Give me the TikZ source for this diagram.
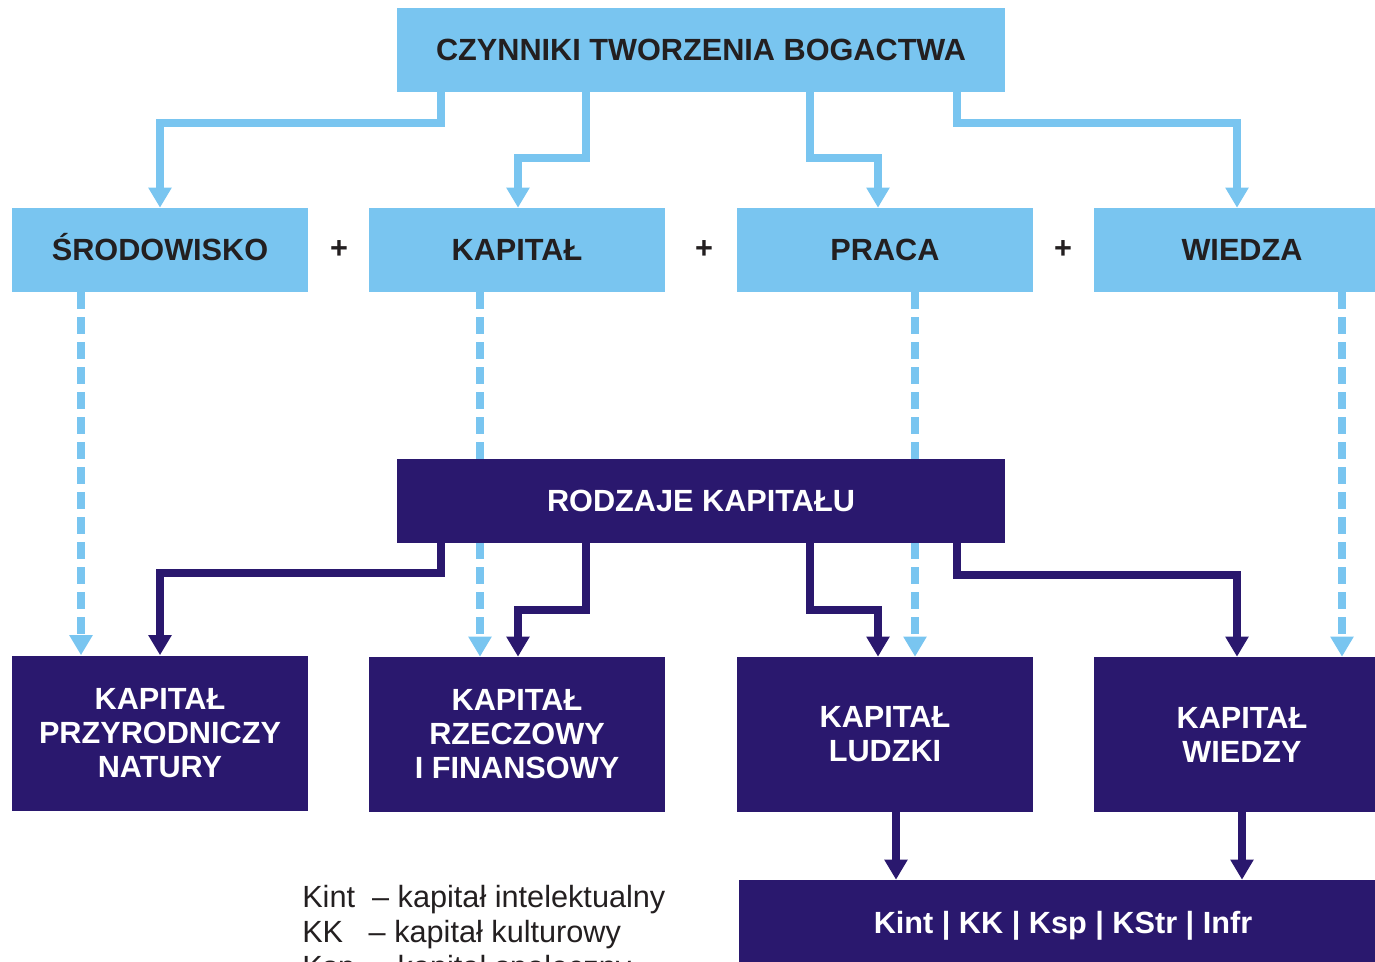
\documentclass[tikz,border=0pt]{standalone}
\usepackage{fontspec}
\setmainfont{Liberation Sans}
\usetikzlibrary{arrows.meta,calc}
\definecolor{lblue}{HTML}{79C5F0}
\definecolor{navy}{HTML}{2A186E}
\definecolor{dtext}{HTML}{231F20}
\tikzset{
  lbox/.style={fill=lblue, text=dtext, font=\bfseries\fontsize{23}{27}\selectfont,
    minimum width=222pt, minimum height=63pt, inner sep=0pt, align=center,
    text height=16.5pt, text depth=0pt},
  nbox/.style={fill=navy, text=white, font=\bfseries\fontsize{23}{25.5}\selectfont,
    minimum width=222pt, minimum height=116.25pt, inner sep=0pt, align=center},
  nbar/.style={fill=navy, text=white, font=\bfseries\fontsize{23}{27}\selectfont,
    minimum width=456pt, minimum height=63pt, inner sep=0pt, align=center,
    text height=16.5pt, text depth=0pt},
  tip/.style={-{Triangle[width=16.5pt,length=15pt]}},
  lconn/.style={draw=lblue, line width=6pt, tip},
  nconn/.style={draw=navy, line width=6pt, tip},
  dconn/.style={lconn, dash pattern=on 12.75pt off 6pt},
  plus/.style={text=dtext, font=\bfseries\fontsize{23}{27}\selectfont, inner sep=0pt},
  legend/.style={text=dtext, font=\fontsize{23}{27}\selectfont, inner sep=0pt, anchor=base west},
}
\begin{document}
\begin{tikzpicture}[x=0.75pt,y=-0.75pt]
\useasboundingbox (0,0) rectangle (1375,962);
\clip (0,0) rectangle (1375,962);
% top
\node[lbox, minimum width=456pt] (top) at (701,50) {CZYNNIKI TWORZENIA BOGACTWA};
% row 2
\node[lbox] (srod) at (160,250) {ŚRODOWISKO};
\node[lbox] (kap) at (517,250) {KAPITAŁ};
\node[lbox] (praca) at (885,250) {PRACA};
\node[lbox] (wiedza) at (1242,250) {WIEDZA};
\node[plus] (p1) at (339,250) {+};
\node[plus] (p2) at (704,250) {+};
\node[plus] (p3) at (1063,250) {+};
% bottom row
\node[nbox] (kpn) at (160,733) {KAPITAŁ\\PRZYRODNICZY\\NATURY};
\node[nbox] (krf) at (517,734.5) {KAPITAŁ\\RZECZOWY\\I FINANSOWY};
\node[nbox] (kl) at (885,734.5) {KAPITAŁ\\LUDZKI};
\node[nbox] (kw) at (1242,734.5) {KAPITAŁ\\WIEDZY};
\node[nbar, minimum width=486pt] (kib) at (1063,922) {Kint | KK | Ksp | KStr | Infr};
% legend
\node[legend] (l1) at (302,907) {Kint\ \ – kapitał intelektualny};
\node[legend] (l2) at (302,942) {KK\ \ \ – kapitał kulturowy};
\node[legend] (l3) at (302,977) {Ksp\ \ – kapitał społeczny};
% top connectors
\draw[lconn] ($(top.south)+(-260,0)$) |- ($(srod.north)+(0,-85)$) -- (srod.north);
\draw[lconn] ($(top.south)+(-115,0)$) |- ($(kap.north)+(1,-50)$) -- ($(kap.north)+(1,0)$);
\draw[lconn] ($(top.south)+(109,0)$) |- ($(praca.north)+(-7,-50)$) -- ($(praca.north)+(-7,0)$);
\draw[lconn] ($(top.south)+(256,0)$) |- ($(wiedza.north)+(-5,-85)$) -- ($(wiedza.north)+(-5,0)$);
% dashed connectors
\draw[dconn] ($(srod.south)+(-79,0)$) -- ($(kpn.north)+(-79,0)$);
\draw[dconn] ($(kap.south)+(-37,0)$) -- ($(krf.north)+(-37,0)$);
\draw[dconn] ($(praca.south)+(30,0)$) -- ($(kl.north)+(30,0)$);
\draw[dconn] ($(wiedza.south)+(100,0)$) -- ($(kw.north)+(100,0)$);
% middle box
\node[nbar] (rodz) at (701,501) {RODZAJE KAPITAŁU};
% navy connectors
\draw[nconn] ($(rodz.south)+(-260,0)$) |- ($(kpn.north)+(0,-82)$) -- (kpn.north);
\draw[nconn] ($(rodz.south)+(-115,0)$) |- ($(krf.north)+(1,-47)$) -- ($(krf.north)+(1,0)$);
\draw[nconn] ($(rodz.south)+(109,0)$) |- ($(kl.north)+(-7,-47)$) -- ($(kl.north)+(-7,0)$);
\draw[nconn] ($(rodz.south)+(256,0)$) |- ($(kw.north)+(-5,-82)$) -- ($(kw.north)+(-5,0)$);
% to bottom box
\draw[nconn] ($(kl.south)+(11,0)$) coordinate (a1) -- (a1 |- kib.north);
\draw[nconn] (kw.south) -- (kw.south |- kib.north);
\end{tikzpicture}
\end{document}
